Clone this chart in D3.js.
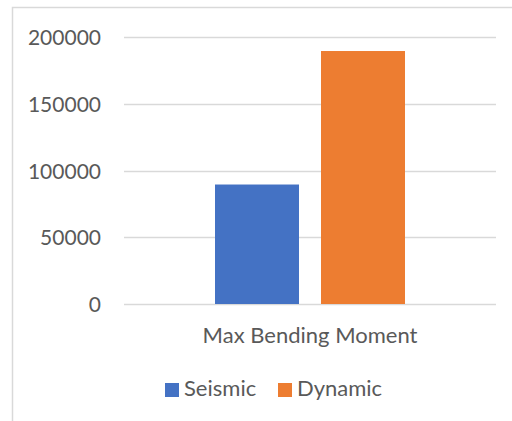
<!DOCTYPE html>
<html>
<head>
<meta charset="utf-8">
<script src="https://cdn.jsdelivr.net/npm/d3@7"></script>
<style>
  html, body { margin: 0; padding: 0; background: #fff; }
  svg { display: block; }
  text { font-family: Lato, "Open Sans", sans-serif; fill: #595959; }
</style>
</head>
<body>
<svg id="chart" width="512" height="421"></svg>
<script>
// Chart data
const categories = ["Max Bending Moment"];
const seriesNames = ["Seismic", "Dynamic"];
const seismicValues = [89500];
const dynamicValues = [189500];
const yTicks = [0, 50000, 100000, 150000, 200000];
const seriesColors = ["#4472c4", "#ed7d31"];

const svg = d3.select("#chart");
const W = 512, H = 421;
const plot = { left: 124, right: 496, top: 37, bottom: 304 };

// Outer chart frame (open to the right and bottom)
svg.append("path")
  .attr("d", `M12.5,${H} V7.5 H${W}`)
  .attr("fill", "none")
  .attr("stroke", "#d9d9d9")
  .attr("stroke-width", 1.5);

const x0 = d3.scaleBand().domain(categories).range([plot.left, plot.right]).padding(0);
const y = d3.scaleLinear().domain([0, 200000]).range([plot.bottom, plot.top]);

// Gridlines
svg.append("g")
  .selectAll("line")
  .data(yTicks)
  .join("line")
  .attr("x1", plot.left).attr("x2", plot.right)
  .attr("y1", d => Math.round(y(d)) + 0.5).attr("y2", d => Math.round(y(d)) + 0.5)
  .attr("stroke", "#d9d9d9")
  .attr("stroke-width", 1.3);

// Y axis labels
const yAxis = d3.axisLeft(y).tickValues(yTicks).tickSize(0).tickPadding(0).tickFormat(d3.format("d"));
const gy = svg.append("g").attr("transform", "translate(101,0)").call(yAxis);
gy.select(".domain").remove();
gy.selectAll("text")
  .attr("font-size", 21)
  .attr("dy", "0.36em")
  .style("font-family", "Lato, sans-serif")
  .attr("fill", "#595959");

// Bars: two series side by side, centred in the category band
const barW = 84, gap = 22;
const group = svg.append("g");
categories.forEach((cat, i) => {
  const cx = x0(cat) + x0.bandwidth() / 2;
  const vals = [seismicValues[i], dynamicValues[i]];
  const start = cx - (barW * 2 + gap) / 2;
  group.selectAll(null)
    .data(vals)
    .join("rect")
    .attr("x", (d, j) => start + j * (barW + gap))
    .attr("width", barW)
    .attr("y", d => y(d))
    .attr("height", d => y(0) - y(d))
    .attr("fill", (d, j) => seriesColors[j]);
});

// Category axis labels
const xAxis = d3.axisBottom(x0).tickSize(0).tickPadding(0);
const gx = svg.append("g").attr("transform", `translate(0,${plot.bottom})`).call(xAxis);
gx.select(".domain").remove();
gx.selectAll("text")
  .attr("font-size", 22)
  .attr("y", 39)
  .attr("dy", 0)
  .style("font-family", "Lato, sans-serif")
  .attr("fill", "#595959");

// Legend
const legendItems = [
  { name: seriesNames[0], color: seriesColors[0], x: 165 },
  { name: seriesNames[1], color: seriesColors[1], x: 278 }
];
const lg = svg.append("g");
legendItems.forEach(it => {
  lg.append("rect")
    .attr("x", it.x).attr("y", 383)
    .attr("width", 14).attr("height", 14)
    .attr("fill", it.color);
  lg.append("text")
    .attr("x", it.x + 19).attr("y", 396)
    .attr("font-size", 22)
    .text(it.name);
});
</script>
</body>
</html>
